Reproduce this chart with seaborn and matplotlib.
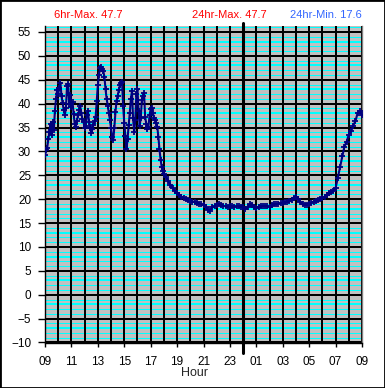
import numpy as np
import pandas as pd
import matplotlib.pyplot as plt
import seaborn as sns
from matplotlib.patches import Rectangle

# readings every 5 min from 09:00 to 17:55
day_temps = [
    29.3, 30.2, 30.8, 32.5, 34.0, 35.8, 33.5, 36.2, 34.4, 38.5, 41.0, 42.8,
    42.0, 43.3, 44.4, 41.5, 40.2, 38.6, 37.6, 39.0, 43.6, 44.2, 40.0, 41.8,
    39.2, 40.4, 37.8, 35.8, 35.2, 36.4, 37.6, 38.6, 39.5, 38.0, 36.8, 36.2,
    34.8, 35.4, 37.6, 38.5, 36.2, 35.0, 33.8, 34.6, 35.6, 36.4, 37.2, 40.5,
    43.8, 46.0, 47.4, 47.7, 47.2, 46.8, 45.6, 43.0, 41.0, 39.6, 38.0, 36.6,
    34.8, 33.0, 32.4, 35.0, 38.2, 40.6, 41.6, 42.8, 43.8, 44.3, 44.6, 39.5,
    36.0, 33.2, 30.4, 32.6, 35.5, 38.0, 41.0, 42.6, 37.0, 34.0, 36.5, 42.0,
    43.0, 38.5, 35.4, 37.0, 40.8, 41.6, 42.2, 37.2, 35.8, 34.6, 35.2, 37.6,
    38.8, 39.0, 38.0, 37.0, 36.6, 36.0, 35.2, 33.0, 30.5, 28.3, 26.8, 25.8,
]

# readings every 10 min from 18:00 to 09:00 next morning
night_temps = [
    25.2, 24.6, 23.8, 23.0, 22.3, 21.8,
    21.3, 20.9, 20.5, 20.2, 20.0, 19.8,
    19.6, 19.5, 19.5, 19.3, 19.0, 18.9,
    18.7, 18.4, 17.8, 17.6, 18.3, 18.5,
    18.8, 18.9, 18.7, 18.6, 18.5, 18.4,
    18.5, 18.6, 18.4, 18.5, 18.5, 18.4,
    18.3, 17.9, 18.4, 18.9, 18.7, 18.3,
    18.2, 18.4, 18.5, 18.6, 18.5, 18.5,
    18.4, 18.7, 18.9, 18.9, 19.0, 19.2,
    19.2, 19.4, 19.4, 19.6, 19.9, 20.2,
    20.4, 20.0, 19.4, 18.9, 18.8, 18.8,
    19.0, 19.3, 19.5, 19.7, 19.8, 20.0,
    20.2, 20.5, 20.9, 21.2, 21.4, 21.8,
    22.3, 24.5, 26.8, 29.0, 31.0, 32.0,
    33.5, 34.2, 35.4, 36.3, 38.0, 38.4,
    37.6,
]

hour_labels = ['09', '11', '13', '15', '17', '19', '21', '23',
               '01', '03', '05', '07', '09']
max6_text = '6hr-Max. 47.7'
max24_text = '24hr-Max. 47.7'
min24_text = '24hr-Min. 17.6'

minutes = np.concatenate([np.arange(0, 540, 5), np.arange(540, 1441, 10)])
df = pd.DataFrame({'hour': minutes / 60, 'temp': day_temps + night_temps})

sns.set_style('white')
plt.rcParams['font.family'] = ['Liberation Sans', 'DejaVu Sans']

fig = plt.figure(figsize=(3.85, 3.88), dpi=100)
ax = fig.add_axes([45 / 385, 45.5 / 388, 317 / 385, 316.5 / 388])
ax.set_facecolor('#C0C0C0')

# grid: cyan every degree, black every 5 degrees and every hour
minor_vals = [v for v in range(-10, 57) if v % 5]
minor_lw = [1.44 if v % 5 == 3 else 0.72 for v in minor_vals]
ax.hlines(minor_vals, 0, 24, colors='#00FFFF', linewidths=minor_lw,
          antialiased=False, zorder=0.6)
ax.hlines(range(-10, 56, 5), 0, 24, colors='black', linewidths=1.44,
          antialiased=False, zorder=0.7)
ax.vlines(range(0, 25), -10, 56.25, colors='black', linewidths=1.44,
          antialiased=False, zorder=0.8)

sns.lineplot(data=df, x='hour', y='temp', ax=ax, color='#000080', lw=1.5,
             marker='+', markersize=5, markeredgewidth=1.3,
             markeredgecolor='#000080', estimator=None, zorder=3)

# midnight marker
ax.axvline(15, ymin=-0.033, ymax=1.0095, color='black', lw=2.2,
           clip_on=False, zorder=2.5)

ax.set_xlim(0, 24)
ax.set_ylim(-10, 56.25)
ax.set_xticks(range(0, 25, 2))
ax.set_xticklabels(hour_labels)
ax.set_yticks(range(-10, 56, 5))

ax.tick_params(bottom=True, left=True, direction='out', color='black',
               width=1, labelsize=8.5, labelcolor='black')
ax.tick_params(axis='y', length=5, pad=5)
ax.tick_params(axis='x', length=3, pad=7)

for side in ['left', 'bottom']:
    ax.spines[side].set_color('black')
    ax.spines[side].set_linewidth(1)
ax.spines['top'].set_visible(False)
ax.spines['right'].set_color('#808080')
ax.spines['right'].set_linewidth(1)

ax.set_xlabel('')
ax.set_ylabel('')
fig.text(195 / 385, 1 - 373 / 388, 'Hour', ha='center', va='center', fontsize=9)

fig.text(54 / 385, 1 - 15 / 388, max6_text, ha='left', va='center',
         fontsize=8, color='#FF0000')
fig.text(192 / 385, 1 - 15 / 388, max24_text, ha='left', va='center',
         fontsize=8, color='#FF0000')
fig.text(290 / 385, 1 - 15 / 388, min24_text, ha='left', va='center',
         fontsize=8, color='#3366FF')

fig.add_artist(Rectangle((0, 0), 1, 1, transform=fig.transFigure, fill=False,
                         edgecolor='black', lw=2, zorder=10))

fig.savefig('out.png', dpi=100)
